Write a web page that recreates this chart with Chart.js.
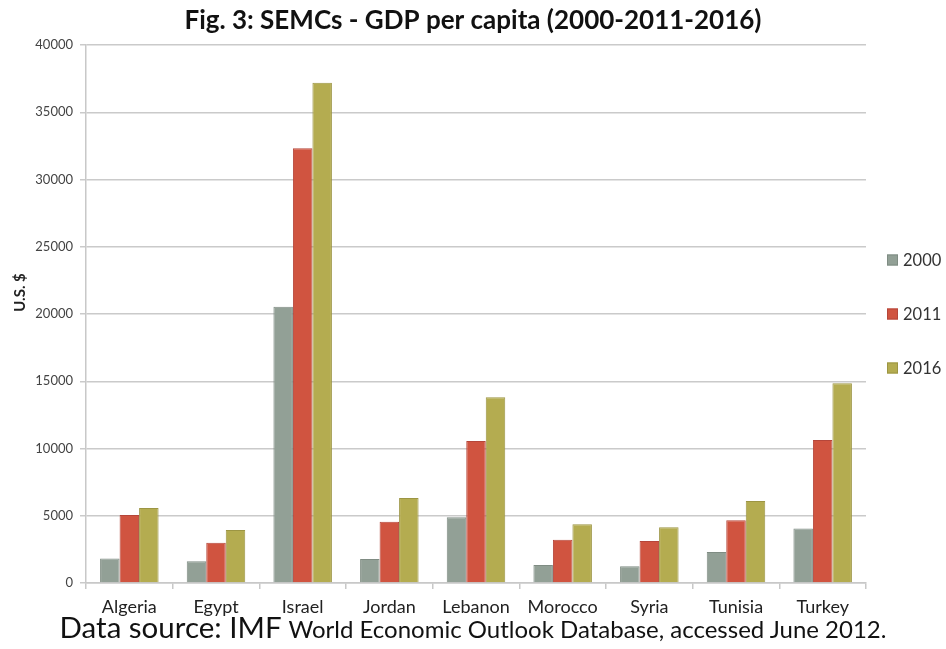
<!DOCTYPE html>
<html>
<head>
<meta charset="utf-8">
<script src="https://cdn.jsdelivr.net/npm/chart.js@4/dist/chart.umd.min.js"></script>
<style>
  html, body { margin: 0; padding: 0; background: #fff; }
  #wrap { position: relative; width: 946px; height: 649px; }
  #source {
    position: absolute; left: 0; right: 0; top: 609px;
    text-align: center; font-family: Lato, sans-serif; color: #111;
    font-size: 29.5px; white-space: nowrap; line-height: 36px;
  }
  #source small { font-size: 24px; }
</style>
</head>
<body>
<div id="wrap">
  <canvas id="gdpChart" width="946" height="649"></canvas>
  <div id="source">Data source: IMF <small>World Economic Outlook Database, accessed June 2012.</small></div>
</div>
<script>
const countries = ["Algeria", "Egypt", "Israel", "Jordan", "Lebanon", "Morocco", "Syria", "Tunisia", "Turkey"];
const years = ["2000", "2011", "2016"];
const gdp2000 = [1830, 1610, 20540, 1780, 4880, 1340, 1240, 2300, 4060];
const gdp2011 = [5050, 3000, 32320, 4560, 10560, 3220, 3120, 4660, 10630];
const gdp2016 = [5570, 3940, 37200, 6320, 13810, 4360, 4140, 6100, 14850];
const yTicks = [0, 5000, 10000, 15000, 20000, 25000, 30000, 35000, 40000];

const fills = ["#92a096", "#d05440", "#b4ac50"];
const edges = ["#7f8c83", "#b5463a", "#9c9543"];
const fontFamily = "Lato, sans-serif";

// legend on the right with wide row spacing, plus the rotated axis title
const sideLabels = {
    id: "sideLabels",
    afterDraw(chart) {
        const { ctx, chartArea } = chart;
        const rowGap = 54;
        const midY = (chartArea.top + chartArea.bottom) / 2;
        const startY = midY - rowGap * (chart.data.datasets.length - 1) / 2;
        const boxX = chartArea.right + 21;
        ctx.save();
        ctx.font = `16.5px ${fontFamily}`;
        ctx.textBaseline = "middle";
        ctx.textAlign = "left";
        chart.data.datasets.forEach((ds, i) => {
            const y = startY + i * rowGap;
            ctx.fillStyle = ds.backgroundColor;
            ctx.strokeStyle = ds.borderColor;
            ctx.lineWidth = 1;
            ctx.fillRect(boxX, y - 5.5, 11, 11);
            ctx.strokeRect(boxX + 0.5, y - 5, 10, 10);
            ctx.fillStyle = "#333";
            ctx.fillText(ds.label, boxX + 16, y + 1);
        });

        ctx.translate(20, chartArea.top + chartArea.height * 0.46);
        ctx.rotate(-Math.PI / 2);
        ctx.font = `bold 15px ${fontFamily}`;
        ctx.textAlign = "center";
        ctx.fillStyle = "#222";
        ctx.fillText("U.S. $", 0, 0);
        ctx.restore();
    },
};

const gdpData = {
    labels: countries,
    datasets: [gdp2000, gdp2011, gdp2016].map((values, i) => ({
        label: years[i],
        data: values,
        backgroundColor: fills[i],
        borderColor: edges[i],
        borderWidth: 1,
        barPercentage: 1.0,
        categoryPercentage: 0.675,
    })),
};

const gdpConfig = {
    type: "bar",
    data: gdpData,
    plugins: [sideLabels],
    options: {
        responsive: false,
        animation: false,
        layout: {
            padding: { left: 0, right: 0, top: 0, bottom: 30 },
        },
        plugins: {
            title: {
                display: true,
                text: "Fig. 3: SEMCs - GDP per capita (2000-2011-2016)",
                color: "#111",
                font: { family: fontFamily, size: 26, weight: "bold", lineHeight: 1.2 },
                padding: { top: 5, bottom: 8.8 },
            },
            legend: { display: false },
            tooltip: { enabled: false },
        },
        scales: {
            x: {
                grid: {
                    offset: true,
                    drawOnChartArea: false,
                    drawTicks: true,
                    tickLength: 6,
                    color: "#c8c8c8",
                    lineWidth: 1.5,
                },
                border: { color: "#c8c8c8", width: 1.5 },
                ticks: {
                    color: "#222",
                    padding: 7,
                    font: { family: fontFamily, size: 18 },
                    maxRotation: 0,
                },
                afterFit: (scale) => { scale.height = 36; },
            },
            y: {
                min: 0,
                max: 40000,
                afterBuildTicks: (scale) => {
                    scale.ticks = yTicks.map((v) => ({ value: v }));
                },
                grid: {
                    color: "#cacaca",
                    lineWidth: 1.5,
                    tickLength: 6,
                },
                border: { color: "#c8c8c8", width: 1.5 },
                ticks: {
                    color: "#444",
                    padding: 7,
                    font: { family: fontFamily, size: 13 },
                    callback: (v) => String(v),
                },
                afterFit: (scale) => { scale.width = 86; },
            },
            // empty right-hand axis that keeps room for the legend
            legendSpace: {
                position: "right",
                min: 0,
                max: 40000,
                grid: { display: false },
                border: { display: false },
                ticks: { display: false },
                afterFit: (scale) => { scale.width = 80; },
            },
        },
    },
};

const gdpChart = new Chart(document.getElementById("gdpChart"), gdpConfig);
</script>
</body>
</html>
